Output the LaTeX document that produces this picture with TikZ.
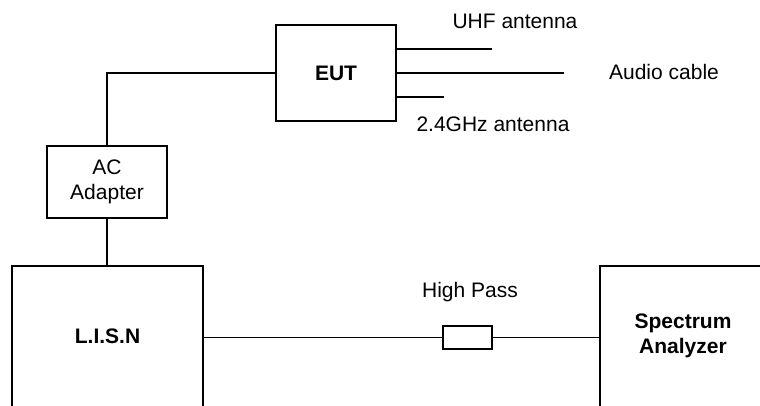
\documentclass[tikz,border=0pt]{standalone}
\usepackage{fontspec}
\setmainfont{Liberation Sans}
\begin{document}
\begin{tikzpicture}[x=1pt,y=-1pt,
  every node/.style={font=\fontsize{21}{25}\selectfont, inner sep=0pt, align=center},
  box/.style={draw, line width=1.4pt, rectangle},
  open/.style={rectangle, draw=none},
  wire/.style={line width=1.5pt},
  lbl/.style={}]
\useasboundingbox (0,0) rectangle (760,406);
% boxes
\node[box, minimum width=120, minimum height=96] (eut) at (336,73) {\bfseries EUT};
\node[box, minimum width=120, minimum height=72] (adp) at (107,182) {AC\\Adapter};
\node[open, minimum width=191, minimum height=140] (lisn) at (107.5,336) {\bfseries L.I.S.N};
\node[open, minimum width=166, minimum height=140] (spec) at (683,336) {\bfseries Spectrum\\\bfseries Analyzer};
\node[box, minimum width=49, minimum height=23] (hp) at (467.5,337.5) {};
% open outlines
\draw[wire] (lisn.south west) -- (lisn.north west) -- (lisn.north east) -- (lisn.south east);
\draw[wire] (spec.south west) -- (spec.north west) -- (spec.north east);
% labels
\node[lbl] (uhf) at (515,21) {UHF antenna};
\node[lbl] (aud) at (664,72) {Audio cable};
\node[lbl] (ghz) at (493,124) {2.4GHz antenna};
\node[lbl] (hpl) at (470,292) {High Pass};
% antenna lines
\coordinate (uhfend) at (492,49);
\coordinate (audend) at (564,73);
\coordinate (ghzend) at (444,97);
\draw[wire] (eut.east |- uhfend) -- (uhfend);
\draw[wire] (eut.east) -- (audend);
\draw[wire] (eut.east |- ghzend) -- (ghzend);
% connections
\draw[wire] (eut.west) -| (adp.north);
\draw[wire] (adp.south) -- (lisn.north -| adp.south);
\draw[wire] (lisn.east |- hp.west) -- (hp.west);
\draw[wire] (hp.east) -- (spec.west |- hp.east);
\end{tikzpicture}
\end{document}
